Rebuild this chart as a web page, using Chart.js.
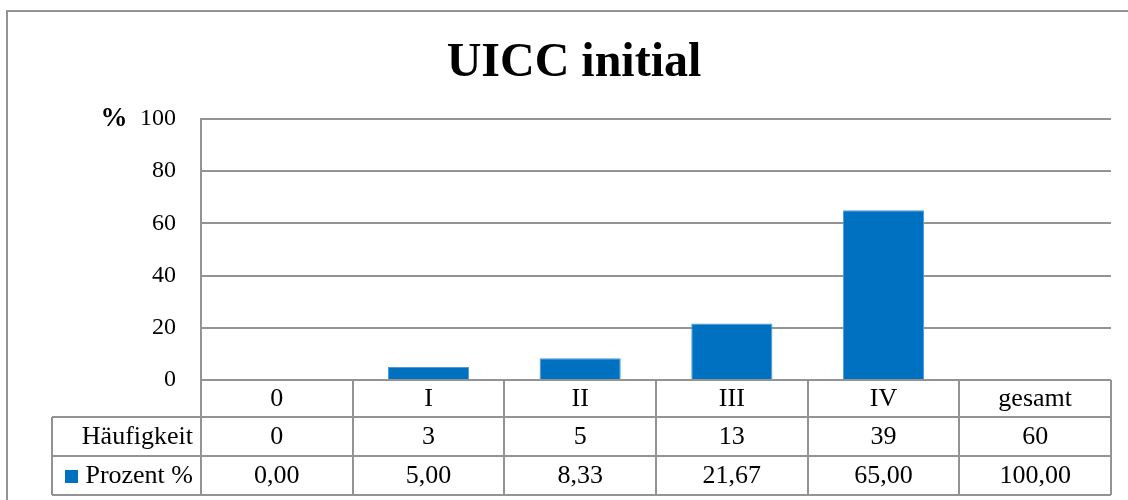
<!DOCTYPE html>
<html>
<head>
<meta charset="utf-8">
<script src="https://cdn.jsdelivr.net/npm/chart.js@4.4.1/dist/chart.umd.min.js"></script>
<style>
  html, body { margin: 0; padding: 0; background: #fff; }
  #wrap { width: 1128px; height: 500px; position: relative; }
</style>
</head>
<body>
<div id="wrap"><canvas id="c" width="1128" height="500"></canvas></div>
<script>
// UICC stage distribution
const categories = ['0', 'I', 'II', 'III', 'IV', 'gesamt'];
const haeufigkeit = [0, 3, 5, 13, 39, 60];
const prozent = [0, 5, 8.33, 21.67, 65, 100];
const yTicks = [0, 20, 40, 60, 80, 100];
const titleText = 'UICC initial';
const rowLabels = ['Häufigkeit', 'Prozent %'];

// the total column is listed in the table only, it gets no bar
const barValues = prozent.map((v, i) => categories[i] === 'gesamt' ? null : v);

const BAR = '#0070C0';
const LINE = '#939393';
const SERIF = '"Liberation Serif", "Times New Roman", serif';
const TABLE_FONT = '26px ' + SERIF;

const fmt = v => v.toFixed(2).replace('.', ',');

const framePlugin = {
  id: 'frameAndTable',
  afterDraw(chart) {
    const ctx = chart.ctx;
    const x = chart.scales.x;
    const area = chart.chartArea;
    ctx.save();

    // outer frame
    ctx.strokeStyle = LINE;
    ctx.lineWidth = 2;
    ctx.beginPath();
    ctx.moveTo(7, 500);
    ctx.lineTo(7, 11);
    ctx.lineTo(1128, 11);
    ctx.stroke();

    // title
    ctx.fillStyle = '#000';
    ctx.font = 'bold 48px ' + SERIF;
    ctx.textAlign = 'center';
    ctx.textBaseline = 'alphabetic';
    ctx.fillText(titleText, 574, 76);

    // axis unit
    ctx.font = 'bold 27px ' + SERIF;
    ctx.textAlign = 'center';
    ctx.textBaseline = 'middle';
    ctx.fillText('%', 114, area.top);

    // data table
    const n = categories.length;
    const step = (x.getPixelForValue(1) - x.getPixelForValue(0));
    const left = x.getPixelForValue(0) - step / 2;
    const right = left + step * n;
    const tableLeft = 52;
    const r0 = area.bottom, r1 = r0 + 37, r2 = r1 + 39, r3 = r2 + 39;

    ctx.strokeStyle = LINE;
    ctx.lineWidth = 2;
    ctx.beginPath();
    ctx.moveTo(tableLeft, r1); ctx.lineTo(right, r1);
    ctx.moveTo(tableLeft, r2); ctx.lineTo(right, r2);
    ctx.moveTo(tableLeft, r3); ctx.lineTo(right, r3);
    ctx.moveTo(tableLeft, r1); ctx.lineTo(tableLeft, r3);
    for (let i = 0; i <= n; i++) {
      const cx = Math.round(left + step * i);
      ctx.moveTo(cx, r0); ctx.lineTo(cx, r3);
    }
    ctx.stroke();

    ctx.fillStyle = '#000';
    ctx.font = TABLE_FONT;
    ctx.textBaseline = 'middle';
    ctx.textAlign = 'center';
    for (let i = 0; i < n; i++) {
      const cx = x.getPixelForValue(i);
      ctx.fillText(categories[i], cx, (r0 + r1) / 2 + 1);
      ctx.fillText(String(haeufigkeit[i]), cx, (r1 + r2) / 2 + 1);
      ctx.fillText(fmt(prozent[i]), cx, (r2 + r3) / 2 + 1);
    }
    ctx.textAlign = 'right';
    const labelRight = left - 8;
    ctx.fillText(rowLabels[0], labelRight, (r1 + r2) / 2 + 1);
    ctx.fillText(rowLabels[1], labelRight, (r2 + r3) / 2 + 1);
    // legend key
    ctx.fillStyle = BAR;
    const pw = ctx.measureText(rowLabels[1]).width;
    ctx.fillRect(Math.round(labelRight - pw - 20), Math.round((r2 + r3) / 2 - 6), 13, 13);

    ctx.restore();
  }
};

new Chart(document.getElementById('c'), {
  type: 'bar',
  data: {
    labels: categories,
    datasets: [{
      label: rowLabels[1],
      data: barValues,
      backgroundColor: BAR,
      borderColor: '#4a9be0',
      borderWidth: 1,
      categoryPercentage: 1,
      barPercentage: 0.535
    }]
  },
  options: {
    responsive: false,
    animation: false,
    layout: { padding: { left: 0, right: 17, top: 119, bottom: 120 } },
    plugins: {
      legend: { display: false },
      title: { display: false },
      tooltip: { enabled: false }
    },
    scales: {
      x: { display: false },
      y: {
        min: 0,
        max: 100,
        afterFit(scale) { scale.width = 201; },
        afterBuildTicks(scale) { scale.ticks = yTicks.map(v => ({ value: v })); },
        grid: { color: LINE, lineWidth: 2, drawTicks: false },
        border: { display: true, color: LINE, width: 2 },
        ticks: {
          padding: 25,
          color: '#000',
          font: { family: SERIF, size: 24 }
        }
      }
    }
  },
  plugins: [framePlugin]
});
</script>
</body>
</html>
